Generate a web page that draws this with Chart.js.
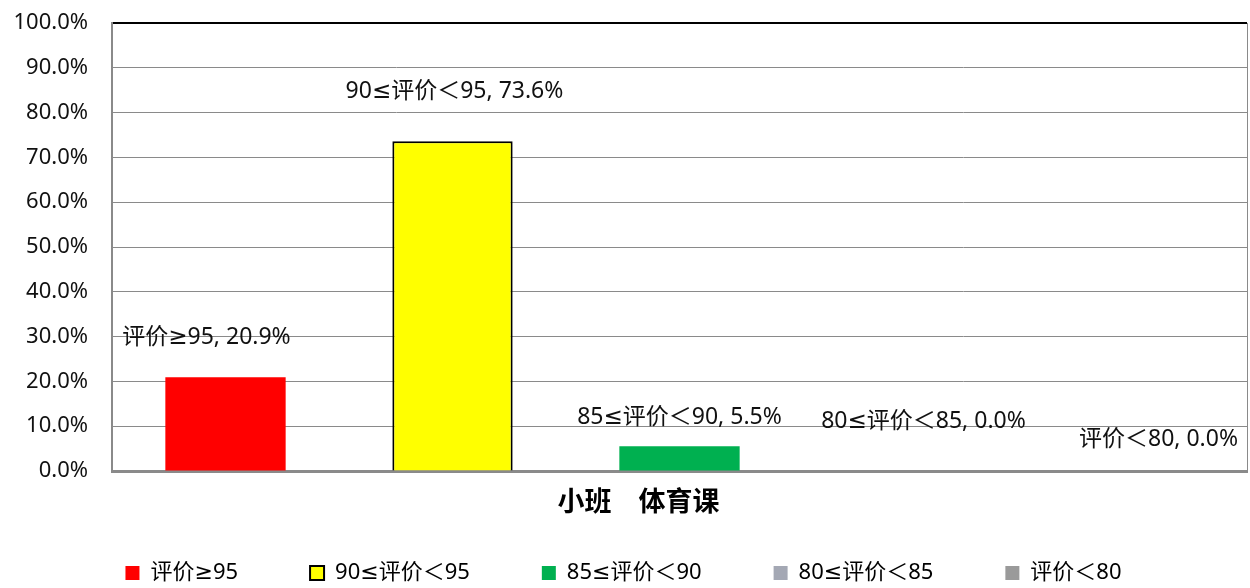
<!DOCTYPE html>
<html>
<head>
<meta charset="utf-8">
<script src="https://cdn.jsdelivr.net/npm/chart.js@4/dist/chart.umd.min.js"></script>
<style>
  html, body { margin: 0; padding: 0; background: #fff; }
  #wrap { width: 1250px; height: 588px; }
</style>
</head>
<body>
<div id="wrap"><canvas id="myChart"></canvas></div>
<script>
const categories = ["小班　体育课"],
    seriesNames = ["评价≥95", "90≤评价＜95", "85≤评价＜90", "80≤评价＜85", "评价＜80"],
    seriesValues = [20.9, 73.6, 5.5, 0.0, 0.0],
    yTicks = [0, 10, 20, 30, 40, 50, 60, 70, 80, 90, 100];

const colors = ["#FF0000", "#FFFF00", "#00B050", "#A4A8B4", "#9A9A9A"],
    borders = ["#FF0000", "#000000", "#00B050", "#A4A8B4", "#9A9A9A"],
    borderWidths = [0, 2, 0, 0, 0],
    // where Excel put each data label, relative to the bar top
    labelShift = [[-19, -40], [2, -50], [0, -29], [17, -50], [25, -32]],
    fontFam = "'Noto Sans', 'DejaVu Sans', 'Noto Sans CJK SC', sans-serif";

const datasets = seriesNames.map((name, i) => ({
    label: name,
    data: [seriesValues[i]],
    backgroundColor: colors[i],
    borderColor: borders[i],
    borderWidth: borderWidths[i],
    categoryPercentage: 1,
    barPercentage: 0.53
}))

const dataLabels = {
    id: "dataLabels",
    afterDatasetsDraw(chart) {
        const c = chart.ctx
        c.save()
        c.font = "23px " + fontFam
        c.fillStyle = "#111"
        c.textAlign = "center"
        c.textBaseline = "middle"
        chart.data.datasets.forEach((ds, i) => {
            const bar = chart.getDatasetMeta(i).data[0]
            const txt = ds.label + ", " + ds.data[0].toFixed(1) + "%"
            c.fillText(txt, bar.x + labelShift[i][0], bar.y + labelShift[i][1])
        })
        c.restore()
    }
}

const frame = {
    id: "frame",
    afterLayout(chart) {
        // nudge the legend row down a little
        chart.legend.top += 6
        chart.legend.bottom += 6
    },
    afterDraw(chart) {
        const a = chart.chartArea, c = chart.ctx
        c.save()
        c.strokeStyle = "#8a8a8a"
        c.lineWidth = 1
        c.beginPath()
        c.moveTo(a.right + 0.5, a.top)
        c.lineTo(a.right + 0.5, a.bottom)
        c.stroke()
        // category title under the axis
        c.font = "bold 27px 'Noto Sans CJK SC', sans-serif"
        c.fillStyle = "#000"
        c.textAlign = "center"
        c.textBaseline = "middle"
        c.fillText(categories[0], (a.left + a.right) / 2 - 41, 501)
        c.restore()
    }
}

new Chart(document.getElementById("myChart"), {
    type: "bar",
    data: { labels: categories, datasets: datasets },
    plugins: [dataLabels, frame],
    options: {
        responsive: true,
        maintainAspectRatio: false,
        animation: false,
        layout: { padding: { top: 23, right: 3, left: 0, bottom: 0 } },
        plugins: {
            tooltip: { enabled: false },
            legend: {
                position: "bottom",
                labels: {
                    boxWidth: 14,
                    boxHeight: 14,
                    padding: 72,
                    color: "#000",
                    font: { size: 22, family: fontFam }
                }
            }
        },
        scales: {
            x: {
                ticks: { display: false },
                grid: { display: false },
                border: { color: "#8a8a8a", width: 3 },
                afterFit(scale) {
                    scale.height = 588 - 471 - scale.chart.legend.height
                }
            },
            y: {
                min: 0,
                max: 100,
                afterBuildTicks(scale) {
                    scale.ticks = yTicks.map(v => ({ value: v }))
                },
                ticks: {
                    color: "#111",
                    padding: 24,
                    font: { size: 22, family: fontFam },
                    callback: v => v.toFixed(1) + "%"
                },
                grid: {
                    color: ctx => ctx.tick && ctx.tick.value === 100 ? "#000" : "#8a8a8a",
                    lineWidth: ctx => ctx.tick && ctx.tick.value === 100 ? 2 : 1,
                    drawTicks: false
                },
                border: { color: "#8a8a8a", width: 2 },
                afterFit(scale) {
                    scale.width = 112
                    scale.paddingTop = 0
                    scale.paddingBottom = 0
                }
            }
        }
    }
})
</script>
</body>
</html>
